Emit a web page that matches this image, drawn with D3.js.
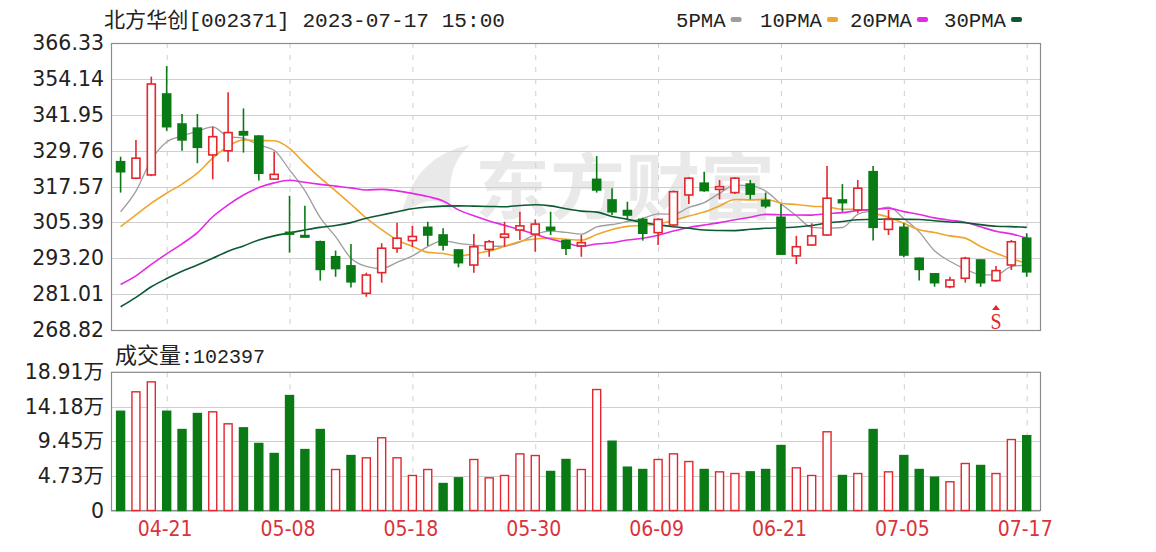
<!DOCTYPE html>
<html><head><meta charset="utf-8">
<script src="https://cdn.jsdelivr.net/npm/d3@7"></script>
<style>html,body{margin:0;padding:0;background:#fff;}svg{display:block;}</style>
</head><body>
<svg id="chart" width="1156" height="552"></svg>
<script>
// ---------------- data ----------------
const dates = ["04-18","04-19","04-20","04-21","04-24","04-25","04-26","04-27","04-28","05-04",
"05-05","05-08","05-09","05-10","05-11","05-12","05-15","05-16","05-17","05-18",
"05-19","05-22","05-23","05-24","05-25","05-26","05-29","05-30","05-31","06-01",
"06-02","06-05","06-06","06-07","06-08","06-09","06-12","06-13","06-14","06-15",
"06-16","06-19","06-20","06-21","06-26","06-27","06-28","06-29","06-30","07-03",
"07-04","07-05","07-06","07-07","07-10","07-11","07-12","07-13","07-14","07-17"];
const open  = [326.0,320.4,321.5,349.0,338.8,337.4,328.3,329.7,336.2,334.7,320.1,302.0,300.9,298.8,293.7,290.6,281.3,288.3,296.6,299.2,
303.7,301.1,296.0,290.9,296.2,300.3,302.8,301.4,303.7,299.2,297.4,320.0,313.0,309.4,306.4,301.9,304.5,314.7,318.7,316.6,
315.5,318.4,312.8,307.1,294.0,297.7,301.1,313.0,309.6,322.6,303.0,303.7,293.2,287.9,283.5,286.4,292.6,285.6,290.9,300.0];
const high  = [327.7,333.4,354.9,358.5,342.2,342.2,337.9,349.6,344.1,335.0,329.4,314.4,311.0,299.2,295.8,298.0,288.3,298.3,305.3,304.2,
305.6,303.4,296.2,301.4,299.4,305.6,309.0,306.4,309.0,299.6,301.1,327.9,317.0,312.4,307.0,306.8,316.2,320.7,322.6,319.8,
320.7,319.8,315.5,311.6,300.8,305.1,324.5,318.4,319.8,324.5,309.6,305.1,293.4,288.0,286.9,293.7,292.8,290.6,299.4,301.7];
const low   = [315.5,320.0,321.1,336.5,329.7,325.5,320.0,326.0,329.1,319.6,319.8,295.1,300.3,285.6,286.9,283.3,280.1,284.9,295.1,297.1,
297.4,295.8,290.1,288.3,293.7,297.1,299.4,295.4,301.1,294.3,293.7,315.5,307.9,306.2,299.2,297.7,303.7,311.6,315.8,313.2,
315.0,313.2,310.2,294.3,291.2,297.4,300.8,309.0,308.5,299.2,301.1,293.5,285.6,283.5,283.0,284.9,283.5,285.2,289.2,286.9];
const close = [322.6,327.2,352.4,337.9,333.4,330.9,334.5,335.9,335.1,322.1,321.7,301.4,300.4,289.4,289.7,285.2,287.5,296.6,300.0,300.6,
301.1,297.7,291.7,297.1,298.8,301.4,304.2,304.8,302.8,296.6,298.5,316.4,309.0,307.9,301.7,306.4,315.8,320.4,316.2,317.5,
320.4,315.0,311.0,294.6,297.1,300.8,313.6,312.1,317.0,303.7,306.4,294.3,289.4,284.9,285.8,293.2,284.9,289.0,298.8,288.6];
// volume, unit 万 (10k shares)
const volume = [13.58,16.24,17.60,13.58,11.08,13.27,13.50,11.86,11.31,9.17,7.80,15.73,8.34,11.08,5.61,7.52,7.21,9.95,7.21,4.79,
5.61,3.69,4.47,6.98,4.47,4.79,7.75,7.52,5.34,6.98,5.61,16.55,9.48,5.93,5.61,6.98,7.75,6.70,5.61,5.29,
5.06,5.29,5.61,8.89,5.84,4.79,10.77,4.79,5.06,11.08,5.29,7.52,5.61,4.56,3.93,6.43,6.16,5.06,9.71,10.2397];
const ma5 = [309.0,316.0,326.6,332.7,334.70,336.36,337.82,334.52,333.96,331.70,329.86,323.24,316.14,307.00,300.52,293.22,290.44,289.68,291.80,293.98,
297.16,299.20,298.22,297.64,297.28,297.34,298.64,301.26,302.40,301.96,301.38,303.82,304.66,305.68,306.70,308.28,308.16,310.44,312.10,315.26,
318.06,317.90,316.02,311.70,307.62,303.70,303.42,303.64,308.12,309.44,310.56,306.70,302.16,295.74,292.16,289.52,287.64,287.56,290.34,290.90];
const ma10 = [303.9,307.9,311.9,315.3,318.4,322.1,327.2,331.3,333.4,333.20,333.11,330.53,325.33,320.48,316.11,311.54,306.84,302.91,299.40,297.25,
295.19,294.82,293.95,294.72,295.63,297.25,298.92,299.74,300.02,299.62,299.36,301.23,302.96,304.04,304.33,304.83,305.99,307.55,308.89,310.98,
313.17,313.03,313.23,311.90,311.44,310.88,310.66,309.83,309.91,308.53,307.13,305.06,302.90,301.93,300.80,300.04,297.17,294.86,293.04,291.53];
const ma20 = [284.3,287.2,291.1,294.7,298.1,301.9,307.3,311.3,314.7,317.2,318.8,319.7,319.0,318.3,317.7,317.1,316.4,316.6,316.1,315.23,
314.15,312.68,309.64,307.60,305.87,304.40,302.88,301.33,299.71,298.44,297.28,298.03,298.46,299.38,299.98,301.04,302.46,303.65,304.46,305.30,
306.27,307.13,308.10,307.97,307.89,307.86,308.33,308.69,309.40,309.76,310.15,309.05,308.07,306.92,306.12,305.46,303.92,302.35,301.48,300.03];
const ma30 = [276.7,279.9,283.5,286.3,288.8,290.9,293.2,295.6,297.4,299.4,300.8,301.8,302.8,303.7,304.3,305.3,306.8,307.9,309.0,310.0,
310.6,310.9,311.0,310.9,310.8,310.7,311.1,311.4,311.0,310.02,309.22,308.86,307.41,306.41,305.36,304.54,303.92,303.40,302.77,302.62,
302.57,303.03,303.38,303.55,303.80,304.32,305.19,305.71,306.27,306.38,306.55,306.44,306.36,305.96,305.52,305.25,304.61,304.08,303.95,303.68];
const priceTicks = [268.82,281.01,293.20,305.39,317.57,329.76,341.95,354.14,366.33];
const volTicks = [0,4.73,9.45,14.18,18.91];
const volTickLabels = ["0","4.73万","9.45万","14.18万","18.91万"];
const dateTicks = ["04-21","05-08","05-18","05-30","06-09","06-21","07-05","07-17"];
const maNames = ["5PMA","10PMA","20PMA","30PMA"];
const signalDates = ["07-13"];
const titleText = "北方华创[002371] 2023-07-17 15:00";
const volLabelName = "成交量";
const lastVolume = "102397";

// ---------------- layout ----------------
const L = 111, R = 1040;
const PT = 43, PB = 330, VT = 372.3, VB = 510.5;
const RED = "#e4262d", GREEN = "#0a7a14", GRID = "#cfcfcf", BORDER = "#8c8c8c";
const maColors = ["#9d9d9d","#f0a62e","#e42ae4","#0c5a34"];

const svg = d3.select("#chart");
const x = d3.scalePoint().domain(dates).range([120.6, 1026.7]);
const y = d3.scaleLinear().domain([268.82, 366.33]).range([PB, PT]);
const yv = d3.scaleLinear().domain([0, 18.91]).range([VB, VT]);
const bw = 9;

// watermark
const wm = svg.append("g").attr("opacity", 0.5);
wm.append("path")
  .attr("d", "M402,214 C410,172 440,150 470,145 C452,160 446,185 452,212 C440,196 425,198 402,214 Z")
  .attr("fill", "#d5d5d5");
wm.append("text").attr("x", 475).attr("y", 213)
  .attr("font-family", "Noto Sans CJK SC").attr("font-size", 72).attr("font-weight", 700)
  .attr("fill", "#d5d5d5").attr("textLength", 300).attr("lengthAdjust", "spacingAndGlyphs")
  .text("东方财富");

// grids - price
const gp = svg.append("g");
gp.selectAll("line.h").data(priceTicks).join("line")
  .attr("x1", L).attr("x2", R).attr("y1", d => Math.round(y(d)) + 0.5).attr("y2", d => Math.round(y(d)) + 0.5)
  .attr("stroke", GRID).attr("stroke-width", 1.2);
gp.selectAll("line.v").data(dateTicks).join("line")
  .attr("x1", d => x(d) + 0.5).attr("x2", d => x(d) + 0.5).attr("y1", PT).attr("y2", PB)
  .attr("stroke", GRID).attr("stroke-dasharray", "5,7");
gp.append("rect").attr("x", L + 0.5).attr("y", PT + 0.5).attr("width", R - L).attr("height", PB - PT)
  .attr("fill", "none").attr("stroke", BORDER).attr("stroke-width", 1.2);

// grids - volume
const gv = svg.append("g");
gv.selectAll("line.h").data(volTicks).join("line")
  .attr("x1", L).attr("x2", R).attr("y1", d => Math.round(yv(d)) + 0.5).attr("y2", d => Math.round(yv(d)) + 0.5)
  .attr("stroke", GRID).attr("stroke-width", 1.2);
gv.selectAll("line.v").data(dateTicks).join("line")
  .attr("x1", d => x(d) + 0.5).attr("x2", d => x(d) + 0.5).attr("y1", VT).attr("y2", VB)
  .attr("stroke", GRID).attr("stroke-dasharray", "5,7");
gv.append("rect").attr("x", L + 0.5).attr("y", VT).attr("width", R - L).attr("height", VB - VT)
  .attr("fill", "none").attr("stroke", BORDER).attr("stroke-width", 1.2);

// axes labels
const yAxis = d3.axisLeft(y).tickValues(priceTicks).tickFormat(d3.format(".2f")).tickSize(0).tickPadding(7);
const ya = svg.append("g").attr("transform", `translate(${L},0)`).call(yAxis);
ya.select(".domain").remove();
ya.selectAll("text").attr("font-family", "DejaVu Sans").attr("font-size", 20.5).attr("fill", "#222");

const vAxis = d3.axisLeft(yv).tickValues(volTicks).tickFormat((d, i) => volTickLabels[i]).tickSize(0).tickPadding(7);
const va = svg.append("g").attr("transform", `translate(${L},0)`).call(vAxis);
va.select(".domain").remove();
va.selectAll("text").attr("font-family", "DejaVu Sans, Noto Sans CJK SC").attr("font-size", 20.5).attr("fill", "#222");

const xAxis = d3.axisBottom(x).tickValues(dateTicks).tickSize(0).tickPadding(11);
const xa = svg.append("g").attr("transform", `translate(-2,${VB})`).call(xAxis);
xa.select(".domain").remove();
xa.selectAll("text").attr("font-family", "DejaVu Sans Condensed").attr("font-size", 21).attr("fill", "#d9343a");

// volume bars
const volUp = (d, i) => i === 0 ? close[0] >= open[0] : close[i] >= close[i - 1];
svg.append("g").selectAll("rect").data(volume).join("rect")
  .attr("x", (d, i) => x(dates[i]) - bw / 2 + 0.5)
  .attr("y", d => yv(d))
  .attr("width", bw - 1)
  .attr("height", d => VB - yv(d))
  .attr("fill", (d, i) => volUp(d, i) ? "#fff" : GREEN)
  .attr("stroke", (d, i) => volUp(d, i) ? RED : GREEN)
  .attr("stroke-width", 1.4);

// MA lines
const maData = [ma5, ma10, ma20, ma30];
const line = d3.line().x((d, i) => x(dates[i])).y(d => y(d)).curve(d3.curveMonotoneX);
svg.append("g").selectAll("path").data(maData).join("path")
  .attr("d", d => line(d)).attr("fill", "none")
  .attr("stroke", (d, i) => maColors[i]).attr("stroke-width", (d, i) => i === 0 ? 1.3 : 1.6);

// candles
const idx = d3.range(dates.length);
const cg = svg.append("g").selectAll("g").data(idx).join("g");
cg.append("line")
  .attr("x1", i => x(dates[i])).attr("x2", i => x(dates[i]))
  .attr("y1", i => y(high[i])).attr("y2", i => y(low[i]))
  .attr("stroke", i => close[i] >= open[i] ? RED : GREEN).attr("stroke-width", 1.6);
cg.append("rect")
  .attr("x", i => x(dates[i]) - bw / 2 + 0.5)
  .attr("y", i => y(Math.max(open[i], close[i])))
  .attr("width", bw - 1)
  .attr("height", i => Math.max(1.2, Math.abs(y(open[i]) - y(close[i]))))
  .attr("fill", i => close[i] >= open[i] ? "#fff" : GREEN)
  .attr("stroke", i => close[i] >= open[i] ? RED : GREEN)
  .attr("stroke-width", 1.6);

// signal marker
const sg = svg.append("g").selectAll("g").data(signalDates).join("g")
  .attr("transform", d => `translate(${x(d)},0)`);
sg.append("path").attr("d", "M-4,310 L0,305 L4,310 Z").attr("fill", RED);
sg.append("text").attr("x", 0).attr("y", 329).attr("text-anchor", "middle")
  .attr("font-family", "Liberation Serif").attr("font-size", 20).attr("fill", RED)
  .attr("transform", "translate(0,329) scale(1,1.2) translate(0,-329)").text("S");

// title
svg.append("text").attr("x", 104).attr("y", 27)
  .attr("font-family", "Liberation Mono, Noto Sans CJK SC").attr("font-size", 21).attr("fill", "#222")
  .attr("textLength", 401).attr("lengthAdjust", "spacingAndGlyphs")
  .text(titleText);

// legend
const lg = svg.append("g");
const legX = [676, 760, 850, 944];
maNames.forEach((n, i) => {
  const t = lg.append("text").attr("x", legX[i]).attr("y", 27)
    .attr("font-family", "Liberation Mono").attr("font-size", 20).attr("fill", "#222")
    .attr("textLength", n.length * 12.4).attr("lengthAdjust", "spacingAndGlyphs").text(n);
  lg.append("rect").attr("x", legX[i] + n.length * 12.4 + 5).attr("y", 17)
    .attr("width", 11).attr("height", 5).attr("rx", 2).attr("fill", maColors[i]);
});

// volume label
const vl = svg.append("text").attr("x", 115).attr("y", 363).attr("fill", "#222");
vl.append("tspan").attr("font-family", "Noto Sans CJK SC").attr("font-size", 22).text(volLabelName);
vl.append("tspan").attr("font-family", "Liberation Mono").attr("font-size", 20).text(":" + lastVolume);
</script>
</body></html>
